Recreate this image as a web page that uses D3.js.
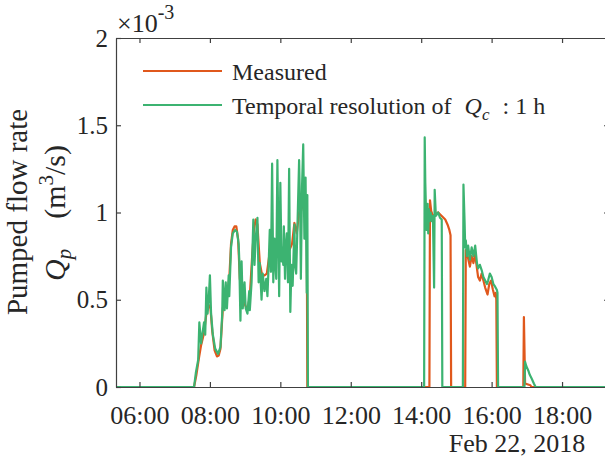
<html>
<head>
  <meta charset="utf-8">
  <title>Pumped flow rate</title>
  <style type="text/css">
    body { margin: 0; background: #fff; }
    .axis path, .axis line { stroke: #404040; stroke-width: 1.2; }
    .line-meas { fill: none; stroke: #e0581c; stroke-width: 2.2; stroke-linejoin: round; }
    .line-sim { fill: none; stroke: #3cb371; stroke-width: 2.2; stroke-linejoin: round; }
  </style>
</head>
<body>
<script src="https://d3js.org/d3.v7.min.js"></script>
<script>
  // flow values are in units of 1e-3 m^3/s (axis shows x10^-3)
  var day = "2018-02-22 ";
  var xTicks = ["06:00", "08:00", "10:00", "12:00", "14:00", "16:00", "18:00"];
  var yTicks = [0, 0.5, 1, 1.5, 2];
  var legendNames = ["Measured", "Temporal resolution of "];

  var measTime = ["05:20", "07:33", "07:37", "07:41", "07:45", "07:50", "07:54", "07:58", "08:01", "08:04",
    "08:08", "08:12", "08:15", "08:18", "08:22", "08:26", "08:30", "08:33", "08:36", "08:39",
    "08:42", "08:45", "08:48", "08:51", "08:55", "09:00", "09:04", "09:08", "09:12", "09:15",
    "09:18", "09:21", "09:25", "09:29", "09:33", "09:37", "09:41", "09:46", "09:51", "09:55",
    "10:00", "10:05", "10:10", "10:15", "10:20", "10:24", "10:28", "10:32", "10:37", "10:41",
    "10:45", "10:46",
    "14:14", "14:15", "14:17", "14:20", "14:25", "14:29", "14:35", "14:41", "14:45", "14:48",
    "14:50", "14:51",
    "15:15", "15:16", "15:18", "15:21", "15:23", "15:26", "15:29", "15:32", "15:35", "15:37",
    "15:40", "15:43", "15:46", "15:49", "15:53", "15:56", "15:59", "16:02", "16:05", "16:07",
    "16:08", "16:09",
    "16:54", "16:55", "16:57", "17:06", "17:08", "19:20"];
  var measFlow = [0, 0, 0.07, 0.16, 0.24, 0.31, 0.42, 0.47, 0.45, 0.32,
    0.21, 0.175, 0.18, 0.22, 0.45, 0.52, 0.55, 0.62, 0.82, 0.90,
    0.92, 0.92, 0.85, 0.62, 0.52, 0.47, 0.44, 0.52, 0.75, 0.90,
    0.96, 0.93, 0.71, 0.64, 0.64, 0.65, 0.75, 0.85, 0.75, 0.85,
    0.78, 0.79, 0.80, 0.78, 0.82, 0.94, 0.88, 1.00, 1.05, 1.00,
    0.95, 0,
    0, 1.07, 1.01, 0.98, 0.99, 1.00, 0.98, 0.96, 0.93, 0.90,
    0.87, 0,
    0, 0.785, 0.77, 0.72, 0.69, 0.75, 0.71, 0.76, 0.68, 0.63,
    0.61, 0.65, 0.61, 0.57, 0.53, 0.59, 0.61, 0.56, 0.52, 0.54,
    0.50, 0,
    0, 0.40, 0.02, 0.01, 0, 0];

  var simTime = ["05:20", "07:33", "07:36", "07:40", "07:42", "07:45", "07:47", "07:50", "07:52", "07:54",
    "07:56", "07:58", "08:00", "08:02", "08:05", "08:09", "08:14", "08:18", "08:21", "08:22",
    "08:25", "08:27", "08:29", "08:32", "08:33", "08:36", "08:39", "08:43", "08:46", "08:49",
    "08:50", "08:52", "08:54", "08:56", "08:59", "09:01", "09:04", "09:07", "09:08", "09:11",
    "09:14", "09:16", "09:18", "09:21", "09:23", "09:25", "09:28", "09:30", "09:33", "09:36",
    "09:38", "09:40", "09:42", "09:44", "09:46", "09:48", "09:50", "09:51", "09:53", "09:55",
    "09:58", "10:00", "10:02", "10:03", "10:05", "10:06", "10:08", "10:09", "10:11", "10:13",
    "10:15", "10:17", "10:19", "10:21", "10:24", "10:25", "10:27", "10:29", "10:32", "10:34",
    "10:35", "10:37", "10:39", "10:41", "10:43", "10:45", "10:46", "10:47",
    "14:05", "14:06", "14:07", "14:09", "14:11", "14:12", "14:13", "14:14", "14:16", "14:18",
    "14:20", "14:22", "14:23", "14:25", "14:29", "14:32", "14:35", "14:36",
    "15:11", "15:12", "15:14", "15:15", "15:16", "15:18", "15:20", "15:23", "15:26", "15:29",
    "15:32", "15:35", "15:37", "15:40", "15:43", "15:46", "15:49", "15:52", "15:54", "15:57",
    "16:00", "16:03", "16:06", "16:09", "16:10", "16:11",
    "16:56", "16:57", "16:59", "17:03", "17:05", "17:08", "17:12", "17:15", "19:20"];
  var simFlow = [0, 0, 0.08, 0.155, 0.37, 0.25, 0.30, 0.37, 0.30, 0.57,
    0.42, 0.50, 0.64, 0.42, 0.30, 0.22, 0.19, 0.23, 0.42, 0.61,
    0.44, 0.60, 0.45, 0.64, 0.52, 0.80, 0.88, 0.90, 0.89, 0.82,
    0.73, 0.38, 0.72, 0.45, 0.60, 0.45, 0.42, 0.55, 0.44, 0.60,
    0.96, 0.70, 0.85, 0.97, 0.60, 0.71, 0.50, 0.65, 0.55, 0.62,
    0.52, 0.69, 0.90, 0.66, 1.28, 0.60, 0.85, 0.75, 0.62, 1.30,
    0.52, 1.17, 0.72, 0.80, 0.70, 0.92, 0.62, 0.78, 0.88, 0.60,
    1.25, 0.43, 0.70, 0.58, 0.93, 0.70, 0.65, 0.90, 1.30, 0.95,
    0.62, 1.15, 1.39, 0.85, 1.20, 0.54, 1.10, 0,
    0, 1.43, 1.17, 0.90, 1.05, 0.88, 1.02, 0.95, 1.00, 0.95,
    0.98, 0.57, 1.13, 0.98, 1.00, 0.97, 0.96, 0,
    0, 1.16, 0.94, 0.80, 0.84, 0.75, 0.81, 0.73, 0.80, 0.75,
    0.81, 0.71, 0.68, 0.70, 0.67, 0.63, 0.61, 0.59, 0.61, 0.65,
    0.63, 0.59, 0.575, 0.556, 0.54, 0,
    0, 0.145, 0.12, 0.09, 0.07, 0.05, 0.02, 0, 0];

  var width = 605, height = 459;
  var serif = "'Liberation Serif', 'Times New Roman', Times, serif";
  var parseT = d3.timeParse("%Y-%m-%d %H:%M");

  var xScale = d3.scaleTime()
    .domain([parseT(day + "05:20"), parseT(day + "19:20")])
    .range([116, 609]);
  var yScale = d3.scaleLinear()
    .domain([0, 2])
    .range([387, 38]);

  var svg = d3.select("body").append("svg")
    .attr("width", width)
    .attr("height", height)
    .style("font-family", serif);

  var line = d3.line()
    .x(function (d) { return xScale(d.t); })
    .y(function (d) { return yScale(d.v); });

  var meas = measTime.map(function (t, i) { return { t: parseT(day + t), v: measFlow[i] }; });
  var sim = simTime.map(function (t, i) { return { t: parseT(day + t), v: simFlow[i] }; });

  svg.append("clipPath").attr("id", "plotclip")
    .append("rect").attr("x", 116).attr("y", 38).attr("width", 493).attr("height", 349);

  var plot = svg.append("g").attr("clip-path", "url(#plotclip)");
  plot.append("path").datum(meas).attr("class", "line-meas").attr("d", line);
  plot.append("path").datum(sim).attr("class", "line-sim").attr("d", line);

  // axes, ticks pointing inward
  var tickDates = xTicks.map(function (t) { return parseT(day + t); });
  var xAxis = svg.append("g")
    .attr("class", "axis")
    .attr("transform", "translate(0,387)")
    .call(d3.axisBottom(xScale).tickValues(tickDates).tickFormat(d3.timeFormat("%H:%M"))
      .tickSizeInner(-5).tickSizeOuter(0).tickPadding(19));
  svg.append("g")
    .attr("class", "axis")
    .attr("transform", "translate(0,38)")
    .call(d3.axisTop(xScale).tickValues(tickDates).tickFormat("").tickSizeInner(-5).tickSizeOuter(0));
  var yAxis = svg.append("g")
    .attr("class", "axis")
    .attr("transform", "translate(116,0)")
    .call(d3.axisLeft(yScale).tickValues(yTicks).tickFormat(d3.format("")).tickSizeInner(-5).tickSizeOuter(0).tickPadding(8));
  svg.append("g")
    .attr("class", "axis")
    .attr("transform", "translate(609,0)")
    .call(d3.axisRight(yScale).tickValues(yTicks).tickFormat("").tickSizeInner(-5).tickSizeOuter(0));

  svg.selectAll(".axis").attr("font-family", serif);
  xAxis.selectAll("text").attr("font-size", 26);
  yAxis.selectAll("text").attr("font-size", 25);

  svg.append("text")
    .attr("x", 517).attr("y", 452)
    .attr("text-anchor", "middle")
    .attr("font-size", 26)
    .text("Feb 22, 2018");

  // exponent label
  var ex = svg.append("text").attr("x", 117).attr("y", 32).attr("font-size", 26);
  ex.append("tspan").text("\u00d710");
  ex.append("tspan").attr("dy", -13).attr("font-size", 20).text("-3");

  // y axis label, two lines
  svg.append("text")
    .attr("transform", "translate(27,212) rotate(-90)")
    .attr("text-anchor", "middle")
    .attr("font-size", 29)
    .text("Pumped flow rate");
  var yl = svg.append("text")
    .attr("transform", "translate(65,213) rotate(-90)")
    .attr("text-anchor", "middle")
    .attr("font-size", 30);
  yl.append("tspan").attr("font-style", "italic").text("Q");
  yl.append("tspan").attr("font-style", "italic").attr("font-size", 21).attr("dy", 6).text("p");
  yl.append("tspan").attr("dy", -6).text("\u2003(m");
  yl.append("tspan").attr("font-size", 21).attr("dy", -12).text("3");
  yl.append("tspan").attr("dy", 12).text("/s)");

  // legend
  var legendColors = ["#e0581c", "#3cb371"];
  var legend = svg.append("g");
  legendNames.forEach(function (name, i) {
    var ly = 71 + i * 34;
    legend.append("line")
      .attr("x1", 143).attr("x2", 222)
      .attr("y1", ly).attr("y2", ly)
      .attr("stroke", legendColors[i]).attr("stroke-width", 2.2);
    var t = legend.append("text")
      .attr("x", 232).attr("y", ly + 9)
      .attr("font-size", 24)
      .text(name);
    if (i == 1) {
      t.append("tspan").attr("dx", 7).attr("font-style", "italic").text("Q");
      t.append("tspan").attr("font-style", "italic").attr("font-size", 17).attr("dy", 6).text("c");
      t.append("tspan").attr("dy", -6).attr("dx", 13).text(": 1 h");
    }
  });

  svg.selectAll("text").style("font-family", serif).style("fill", "#262626");
</script>
</body>
</html>
